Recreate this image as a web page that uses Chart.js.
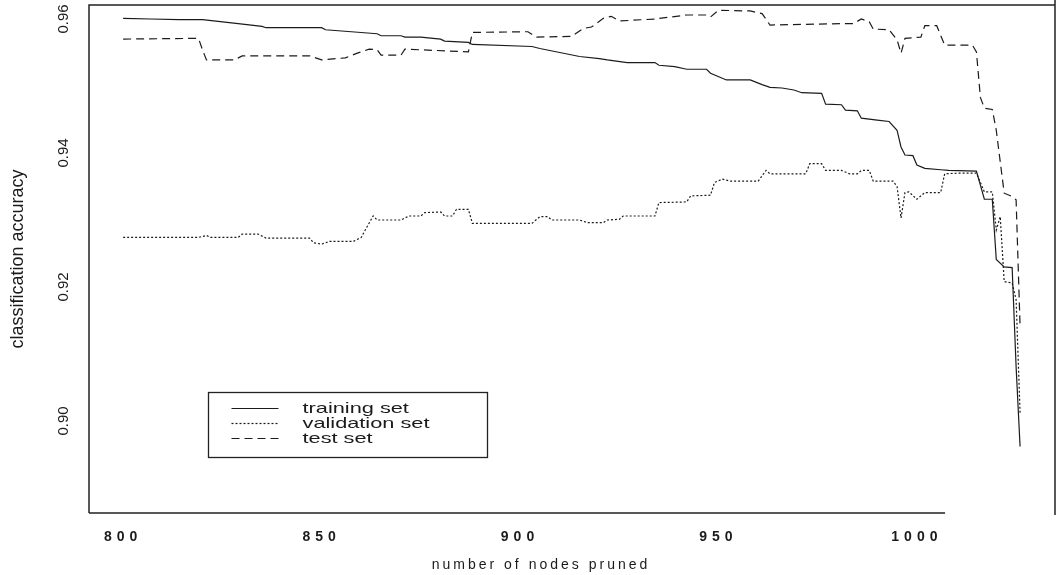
<!DOCTYPE html>
<html>
<head>
<meta charset="utf-8">
<script src="https://cdn.jsdelivr.net/npm/chart.js@4.4.1/dist/chart.umd.min.js"></script>
<style>
  html, body { margin: 0; padding: 0; background: #fff; }
  #wrap { width: 1059px; height: 575px; }
</style>
</head>
<body>
<div id="wrap"><canvas id="pruneChart" width="1059" height="575"></canvas></div>
<script>
// values: number of nodes pruned -> classification accuracy
var trainNodes = [800,807,814,820,829,835,836,850,851,864,865,870,871,875,880,881,887,888,903,905,915,920,922,927,934,935,939,942,947,948,952,958,961,963,966,969,971,976,977,981,982,985,986,990,993,995,996,997,999,1000,1002,1006,1008,1015,1017,1019,1020,1022,1024,1025,1026];
var trainAcc = [0.9601,0.9600,0.9599,0.9599,0.9593,0.9589,0.9587,0.9587,0.9584,0.9578,0.9575,0.9575,0.9573,0.9573,0.9570,0.9567,0.9565,0.9562,0.9559,0.9556,0.9544,0.9541,0.9539,0.9535,0.9535,0.9531,0.9529,0.9525,0.9525,0.9519,0.9509,0.9509,0.9502,0.9498,0.9497,0.9494,0.9490,0.9489,0.9473,0.9472,0.9464,0.9463,0.9452,0.9449,0.9447,0.9434,0.9409,0.9397,0.9396,0.9382,0.9377,0.9375,0.9374,0.9373,0.9331,0.9331,0.9241,0.9230,0.9229,0.9081,0.8962];

var valNodes = [800,819,821,822,829,830,834,836,847,848,850,852,858,860,861,863,864,870,872,875,876,880,881,883,884,887,888,903,905,907,908,915,917,921,922,925,926,934,935,942,943,948,949,951,953,960,962,963,972,973,976,977,981,983,985,986,988,989,994,995,996,997,998,1000,1002,1006,1007,1011,1015,1017,1019,1020,1021,1022,1024,1025,1026];
var valAcc = [0.9274,0.9274,0.9277,0.9274,0.9274,0.9279,0.9279,0.9273,0.9273,0.9266,0.9264,0.9268,0.9268,0.9274,0.9285,0.9306,0.9300,0.9300,0.9306,0.9306,0.9311,0.9312,0.9306,0.9306,0.9316,0.9316,0.9295,0.9295,0.9305,0.9305,0.9300,0.9300,0.9296,0.9296,0.9300,0.9301,0.9306,0.9306,0.9326,0.9327,0.9336,0.9337,0.9356,0.9361,0.9358,0.9358,0.9374,0.9369,0.9369,0.9384,0.9384,0.9374,0.9374,0.9369,0.9369,0.9374,0.9374,0.9358,0.9358,0.9350,0.9303,0.9341,0.9342,0.9331,0.9341,0.9341,0.9369,0.9370,0.9370,0.9342,0.9342,0.9285,0.9305,0.9208,0.9206,0.9181,0.9012];

var testNodes = [800,817,819,820,821,828,830,847,850,856,859,862,864,865,870,871,887,888,902,904,913,916,918,921,923,925,934,942,947,948,950,958,961,963,981,984,986,988,989,993,995,996,997,1001,1002,1005,1007,1014,1015,1016,1017,1019,1020,1022,1024,1025,1026];
var testAcc = [0.9570,0.9571,0.9571,0.9554,0.9539,0.9539,0.9545,0.9545,0.9539,0.9542,0.9549,0.9555,0.9554,0.9546,0.9546,0.9555,0.9551,0.9580,0.9581,0.9573,0.9574,0.9586,0.9588,0.9601,0.9604,0.9597,0.9600,0.9606,0.9606,0.9603,0.9613,0.9612,0.9608,0.9591,0.9593,0.9593,0.9600,0.9596,0.9585,0.9584,0.9569,0.9549,0.9571,0.9573,0.9590,0.9590,0.9561,0.9561,0.9551,0.9483,0.9467,0.9465,0.9434,0.9340,0.9335,0.9330,0.9141];

var seriesLabels = ["training set", "validation set", "test set"];
var xTicks = [800, 850, 900, 950, 1000];
var yTicks = [0.90, 0.92, 0.94, 0.96];

function pts(xs, ys) {
  return xs.map(function (x, i) { return { x: x, y: ys[i] }; });
}

var ink = '#1b1b1b';
var font = '"Liberation Sans", Arial, sans-serif';

// wide letter spacing on the x axis text; the title sits a bit left of centre
var spacedX = {
  id: 'spacedX',
  beforeDraw: function (chart) {
    var s = chart.scales.x;
    if (s._spaced) return;
    s._spaced = true;
    var ctx = chart.ctx;
    [['drawLabels', '5px', 0], ['drawTitle', '3px', -31]].forEach(function (p) {
      var orig = s[p[0]].bind(s);
      s[p[0]] = function (a) {
        ctx.save();
        ctx.letterSpacing = p[1];
        ctx.translate(p[2], 0);
        orig(a);
        ctx.restore();
      };
    });
  }
};

// the box round the plot (bottom line stops short, as in the scan)
var frame = {
  id: 'frame',
  afterDraw: function (chart, args, opts) {
    var a = chart.chartArea, ctx = chart.ctx;
    var bottomEnd = chart.scales.x.getPixelForValue(opts.bottomEnd);
    ctx.save();
    ctx.strokeStyle = '#222';
    ctx.lineWidth = 1.5;
    ctx.beginPath();
    ctx.moveTo(a.left, a.bottom);
    ctx.lineTo(a.left, a.top);
    ctx.lineTo(a.right, a.top);
    ctx.moveTo(a.right, a.top - 5);
    ctx.lineTo(a.right, a.bottom + 2);
    ctx.moveTo(a.left, a.bottom);
    ctx.lineTo(bottomEnd, a.bottom);
    ctx.stroke();
    ctx.restore();
  }
};

// legend box placed in data coordinates, R style; text is wide like the scan
var boxLegend = {
  id: 'boxLegend',
  afterDatasetsDraw: function (chart, args, opts) {
    var ctx = chart.ctx;
    var left = Math.round(chart.scales.x.getPixelForValue(opts.x)) + 0.5;
    var top = Math.round(chart.scales.y.getPixelForValue(opts.y)) + 0.5;
    ctx.save();
    ctx.fillStyle = '#fff';
    ctx.fillRect(left, top, opts.width, opts.height);
    ctx.strokeStyle = '#222';
    ctx.lineWidth = 1.3;
    ctx.strokeRect(left, top, opts.width, opts.height);
    ctx.font = '15px ' + font;
    ctx.textBaseline = 'middle';
    ctx.fillStyle = ink;
    chart.data.datasets.forEach(function (ds, i) {
      var y = top + opts.firstRow + i * opts.rowGap;
      ctx.beginPath();
      ctx.setLineDash(ds.borderDash || []);
      ctx.strokeStyle = ds.borderColor;
      ctx.lineWidth = ds.borderWidth;
      ctx.moveTo(left + 23, y);
      ctx.lineTo(left + 70, y);
      ctx.stroke();
      ctx.setLineDash([]);
      ctx.save();
      ctx.translate(left + 94, y);
      ctx.scale(opts.stretch, 1);
      ctx.fillText(ds.label, 0, 0);
      ctx.restore();
    });
    ctx.restore();
  }
};

var ctxP = document.getElementById('pruneChart').getContext('2d');
var pruneChart = new Chart(ctxP, {
  type: 'line',
  data: {
    datasets: [{
      label: seriesLabels[0],
      data: pts(trainNodes, trainAcc),
      borderColor: ink,
      borderWidth: 1.2,
      borderDash: []
    }, {
      label: seriesLabels[1],
      data: pts(valNodes, valAcc),
      borderColor: ink,
      borderWidth: 1.2,
      borderDash: [2, 2]
    }, {
      label: seriesLabels[2],
      data: pts(testNodes, testAcc),
      borderColor: ink,
      borderWidth: 1.2,
      borderDash: [8, 5]
    }]
  },
  options: {
    responsive: false,
    animation: false,
    events: [],
    elements: { point: { radius: 0 }, line: { tension: 0, fill: false } },
    layout: { padding: { top: 5, right: 4, left: 0, bottom: 0 } },
    scales: {
      x: {
        type: 'linear',
        min: 791.4,
        max: 1034.8,
        afterBuildTicks: function (s) { s.ticks = xTicks.map(function (v) { return { value: v }; }); },
        afterFit: function (s) { s.height = 62; s.paddingLeft = 0; s.paddingRight = 0; },
        grid: { display: false, drawTicks: false },
        border: { display: false },
        ticks: {
          padding: 16,
          color: ink,
          maxRotation: 0,
          autoSkip: false,
          font: { family: font, size: 14, weight: 'bold' },
          callback: function (v) { return String(v); }
        },
        title: {
          display: true,
          text: 'number of nodes pruned',
          color: ink,
          padding: { top: 0, bottom: 1 },
          font: { family: font, size: 14 }
        }
      },
      y: {
        min: 0.88627,
        max: 0.96209,
        afterBuildTicks: function (s) { s.ticks = yTicks.map(function (v) { return { value: v }; }); },
        afterFit: function (s) { s.width = 89; s.paddingTop = 0; s.paddingBottom = 0; },
        grid: { display: false, drawTicks: false },
        border: { display: false },
        ticks: {
          minRotation: 90,
          maxRotation: 90,
          crossAlign: 'center',
          padding: 11,
          color: ink,
          font: { family: font, size: 15 },
          callback: function (v) { return v.toFixed(2); }
        },
        title: {
          display: true,
          text: 'classification accuracy',
          color: ink,
          padding: { top: 7, bottom: 0 },
          font: { family: font, size: 18 }
        }
      }
    },
    plugins: {
      legend: { display: false },
      tooltip: { enabled: false },
      frame: { bottomEnd: 1007.1 },
      boxLegend: { x: 821.4, y: 0.90433, width: 279, height: 65, firstRow: 16, rowGap: 15, stretch: 1.45 }
    }
  },
  plugins: [spacedX, frame, boxLegend]
});
</script>
</body>
</html>
